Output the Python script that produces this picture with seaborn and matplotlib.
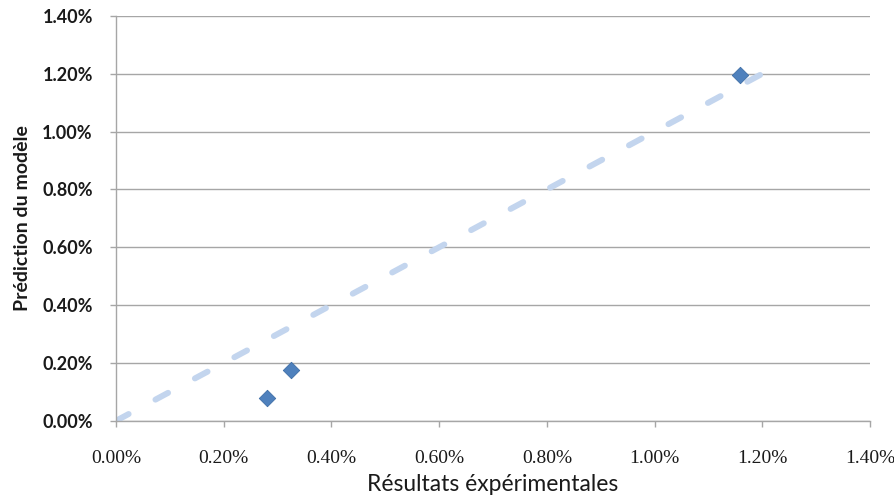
import numpy as np
import pandas as pd
from matplotlib import pyplot as plt
from matplotlib.ticker import PercentFormatter
import seaborn as sns

# experimental results vs model prediction (fractions)
experimental = [0.00280, 0.00325, 0.01158]
predicted = [0.00080, 0.00177, 0.01195]
ref_x = [0.0, 0.012]
ref_y = [0.0, 0.012]
ticks = np.arange(0, 0.0141, 0.002)

df = pd.DataFrame({"exp": experimental, "pred": predicted})

sns.set_style("white")
fig = plt.figure(figsize=(8.95, 4.98), dpi=100)
ax = fig.add_axes([0.1296, 0.155, 0.8424, 0.813])

ax.plot(ref_x, ref_y, color="#C3D5EE", lw=4.3,
        ls=(0, (2.4, 5.1)), dash_capstyle="round", zorder=2)
sns.scatterplot(data=df, x="exp", y="pred", marker="D", s=70,
                color="#4F81BD", edgecolor="#3F6EA6", linewidth=0.6,
                ax=ax, zorder=3)

ax.set_xlim(0, 0.014)
ax.set_ylim(0, 0.014)
ax.set_xticks(ticks)
ax.set_yticks(ticks)
fmt = PercentFormatter(xmax=1, decimals=2)
ax.xaxis.set_major_formatter(fmt)
ax.yaxis.set_major_formatter(fmt)

ax.grid(axis="y", color="#A6A6A6", lw=1)
ax.grid(axis="x", visible=False)
for s in ["top", "right"]:
    ax.spines[s].set_visible(False)
for s in ["left", "bottom"]:
    ax.spines[s].set_color("#A6A6A6")
    ax.spines[s].set_linewidth(1)

ax.tick_params(axis="x", direction="out", length=4.3, color="#A6A6A6",
               width=1, pad=17, bottom=True)
ax.tick_params(axis="y", direction="out", length=4.3, color="#A6A6A6",
               width=1, pad=12.3, left=True)
for lab in ax.get_xticklabels():
    lab.set_fontfamily("Liberation Serif")
    lab.set_fontsize(14)
    lab.set_color("#1a1a1a")
for lab in ax.get_yticklabels():
    lab.set_fontfamily("Lato")
    lab.set_fontweight("bold")
    lab.set_fontsize(13)
    lab.set_color("#1a1a1a")

ax.set_xlabel("Résultats éxpérimentales", fontfamily="Lato", fontsize=16.5,
              labelpad=5, color="#1a1a1a")
ax.set_ylabel("Prédiction du modèle", fontfamily="Lato", fontsize=14,
              fontweight="bold", labelpad=8, color="#1a1a1a")

fig.savefig("out.png", dpi=100)
